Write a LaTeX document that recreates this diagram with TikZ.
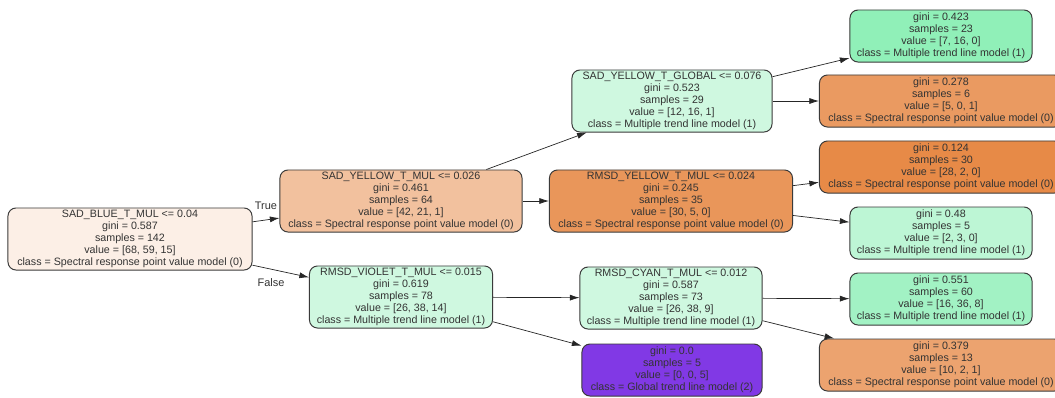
\documentclass[tikz,border=0pt]{standalone}
\usepackage{fontspec}
\setmainfont{Liberation Sans}
\usepackage{tikz}
\usetikzlibrary{arrows.meta}

\definecolor{edgegray}{HTML}{3A3A3A}
\definecolor{rootfill}{HTML}{FCEFE6}
\definecolor{symfill}{HTML}{F2C19E}
\definecolor{ltgreen}{HTML}{CFF8E0}
\definecolor{rymfill}{HTML}{E9965A}
\definecolor{purplefill}{HTML}{8139E5}
\definecolor{greenA}{HTML}{90F0B8}
\definecolor{orangeA}{HTML}{EA9A61}
\definecolor{orangeB}{HTML}{E78A47}
\definecolor{greenB}{HTML}{BDF6D5}
\definecolor{greenC}{HTML}{A2F2C4}
\definecolor{orangeC}{HTML}{ECA36F}

\tikzset{
  treenode/.style={draw=edgegray,line width=0.7pt,rounded corners=0.2cm,
    align=center,inner xsep=0.15cm,inner ysep=0pt,text=black!80,
    font=\fontsize{7.6}{8.5}\selectfont},
  split/.style={treenode,minimum height=1.55cm},
  leaf/.style={treenode,minimum height=1.3cm},
  edge/.style={draw=black!85,line width=0.5pt,-{Latex[length=2.4mm,width=1.5mm]}},
  edgelabel/.style={font=\fontsize{7.8}{9}\selectfont,text=black!80}
}

\begin{document}
\begin{tikzpicture}[x=0.025cm,y=-0.025cm]
 \useasboundingbox (0,0) rectangle (1055,397);
 % split nodes
 \node[split,fill=rootfill,minimum width=6.1cm] (root) at (130,239)
   {SAD\_BLUE\_T\_MUL <= 0.04\\gini = 0.587\\samples = 142\\value = [68, 59, 15]\\class = Spectral response point value model (0)};
 \node[split,fill=symfill,minimum width=6.05cm] (sym) at (401,201)
   {SAD\_YELLOW\_T\_MUL <= 0.026\\gini = 0.461\\samples = 64\\value = [42, 21, 1]\\class = Spectral response point value model (0)};
 \node[split,fill=ltgreen,minimum width=4.575cm] (rvm) at (401,297)
   {RMSD\_VIOLET\_T\_MUL <= 0.015\\gini = 0.619\\samples = 78\\value = [26, 38, 14]\\class = Multiple trend line model (1)};
 \node[split,fill=ltgreen,minimum width=5cm] (syg) at (672,101)
   {SAD\_YELLOW\_T\_GLOBAL <= 0.076\\gini = 0.523\\samples = 29\\value = [12, 16, 1]\\class = Multiple trend line model (1)};
 \node[split,fill=rymfill,minimum width=6.075cm] (rym) at (671,201)
   {RMSD\_YELLOW\_T\_MUL <= 0.024\\gini = 0.245\\samples = 35\\value = [30, 5, 0]\\class = Spectral response point value model (0)};
 \node[split,fill=ltgreen,minimum width=4.55cm] (rcm) at (671,298)
   {RMSD\_CYAN\_T\_MUL <= 0.012\\gini = 0.587\\samples = 73\\value = [26, 38, 9]\\class = Multiple trend line model (1)};
 % leaves
 \node[leaf,fill=purplefill,minimum width=4.5cm] (lfa) at (672,370)
   {gini = 0.0\\samples = 5\\value = [0, 0, 5]\\class = Global trend line model (2)};
 \node[leaf,fill=greenA,minimum width=4.55cm] (lfb) at (941,36)
   {gini = 0.423\\samples = 23\\value = [7, 16, 0]\\class = Multiple trend line model (1)};
 \node[leaf,fill=orangeA,minimum width=6.075cm] (lfc) at (941,101)
   {gini = 0.278\\samples = 6\\value = [5, 0, 1]\\class = Spectral response point value model (0)};
 \node[leaf,fill=orangeB,minimum width=6.075cm] (lfd) at (941,167)
   {gini = 0.124\\samples = 30\\value = [28, 2, 0]\\class = Spectral response point value model (0)};
 \node[leaf,fill=greenB,minimum width=4.55cm] (lfe) at (941,233)
   {gini = 0.48\\samples = 5\\value = [2, 3, 0]\\class = Multiple trend line model (1)};
 \node[leaf,fill=greenC,minimum width=4.55cm] (lff) at (941,299)
   {gini = 0.551\\samples = 60\\value = [16, 36, 8]\\class = Multiple trend line model (1)};
 \node[leaf,fill=orangeC,minimum width=6.075cm] (lfg) at (941,365)
   {gini = 0.379\\samples = 13\\value = [10, 2, 1]\\class = Spectral response point value model (0)};
 % edges
 \draw[edge] (root) -- (sym);
 \draw[edge] (root) -- (rvm);
 \draw[edge] (sym) -- (syg);
 \draw[edge] (sym) -- (rym);
 \draw[edge] (rvm) -- (rcm);
 \draw[edge] (rvm) -- (lfa);
 \draw[edge] (syg) -- (lfb);
 \draw[edge] (syg) -- (lfc);
 \draw[edge] (rym) -- (lfd);
 \draw[edge] (rym) -- (lfe);
 \draw[edge] (rcm) -- (lff);
 \draw[edge] (rcm) -- (lfg);
 \node[edgelabel] (true) at (266,206) {True};
 \node[edgelabel] (false) at (271,283) {False};
\end{tikzpicture}
\end{document}
